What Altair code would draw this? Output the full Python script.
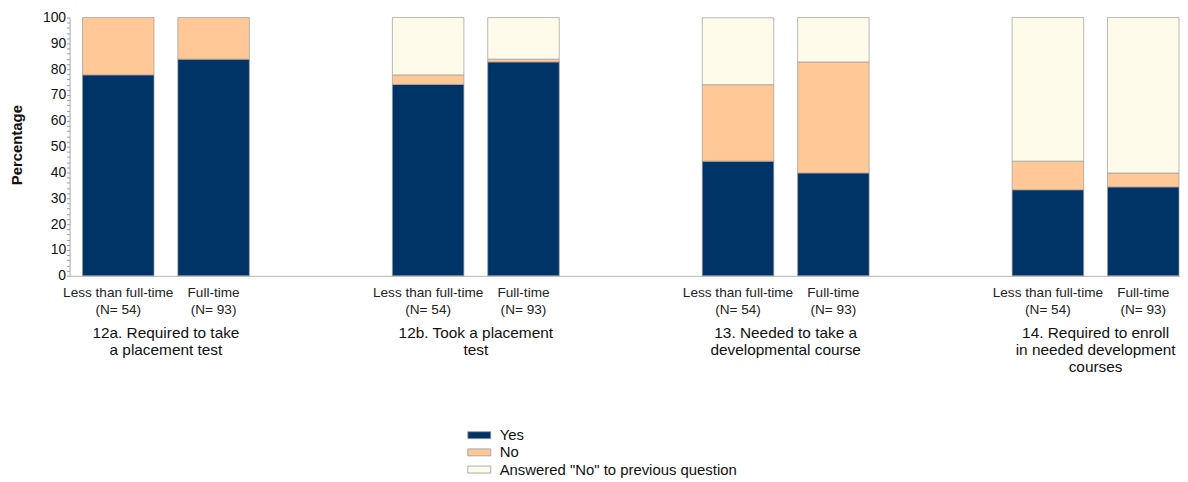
import altair as alt
import pandas as pd

FONT = "Liberation Sans, Arial, Helvetica, sans-serif"

groups = ["12a", "12b", "13", "14"]
group_titles = [
    "12a. Required to take\na placement test",
    "12b. Took a placement\ntest",
    "13. Needed to take a\ndevelopmental course",
    "14. Required to enroll\nin needed development\ncourses",
]
statuses = ["Less than full-time", "Full-time"]
status_labels = ["Less than full-time\n(N= 54)", "Full-time\n(N= 93)"]
series = ["Yes", "No", "Answered \"No\" to previous question"]
colors = ["#003366", "#ffc896", "#fffbeb"]

# Percentages per question (12a, 12b, 13, 14)
yes_less = [77.8, 74.1, 44.4, 33.3]
no_less = [22.2, 3.7, 29.6, 11.1]
prev_less = [0.0, 22.2, 25.9, 55.6]
yes_full = [83.9, 82.8, 39.8, 34.4]
no_full = [16.1, 1.1, 43.0, 5.4]
prev_full = [0.0, 16.1, 17.2, 60.2]

values = {
    "Less than full-time": [yes_less, no_less, prev_less],
    "Full-time": [yes_full, no_full, prev_full],
}

rows = []
for gi, g in enumerate(groups):
    for s in statuses:
        for k, name in enumerate(series):
            v = values[s][k][gi]
            if v > 0:
                rows.append({"group": g, "status": s, "series": name, "ord": k, "pct": v})
df = pd.DataFrame(rows)

lab_df = pd.DataFrame(
    [{"group": g, "status": s, "label": status_labels[si]}
     for g in groups for si, s in enumerate(statuses)]
)
title_df = pd.DataFrame({"group": groups, "title": group_titles})

xscale = alt.Scale(domain=groups, range=[0, 1248], paddingInner=0, paddingOuter=0)
xoff_scale = alt.Scale(domain=statuses, paddingInner=0.25, paddingOuter=0.75, align=13 / 144)
xaxis = alt.Axis(labels=False, ticks=False, title=None, domainColor="#b5b5b5", grid=False)

bars = alt.Chart(df).mark_bar(stroke="#9a9a9a", strokeWidth=0.7).encode(
    x=alt.X("group:N", scale=xscale, axis=xaxis),
    xOffset=alt.XOffset("status:N", scale=xoff_scale),
    y=alt.Y(
        "pct:Q",
        stack="zero",
        scale=alt.Scale(domain=[0, 100], nice=False),
        axis=alt.Axis(
            values=list(range(0, 101, 2)),
            labelExpr="datum.value % 10 === 0 ? datum.label : ''",
            labelOverlap=False,
            tickSize=3,
            labelPadding=1,
            labelFontSize=14,
            labelFont=FONT,
            labelColor="#111111",
            domainColor="#aaaaaa",
            tickColor="#999999",
            grid=False,
            title="Percentage",
            titleFont=FONT,
            titleFontSize=15,
            titleFontWeight="bold",
            titleColor="#111111",
            titleX=-53,
            titleY=128,
            titleAngle=270,
            titleBaseline="middle",
            titleAlign="center",
        ),
    ),
    color=alt.Color(
        "series:N",
        scale=alt.Scale(domain=series, range=colors),
        legend=alt.Legend(
            title=None,
            orient="none",
            legendX=405,
            legendY=413,
            symbolType="M-3.3,-1H3.3V1H-3.3Z",
            symbolSize=49,
            symbolStrokeColor="#999999",
            symbolStrokeWidth=0.8,
            labelFont=FONT,
            labelFontSize=15,
            labelColor="#111111",
            labelOffset=13,
            labelLimit=0,
            rowPadding=1.3,
        ),
    ),
    order=alt.Order("ord:Q"),
)

labels = alt.Chart(lab_df).mark_text(
    lineBreak="\n", baseline="alphabetic", align="center", fontSize=13.7,
    font=FONT, color="#222222", lineHeight=17,
).encode(
    x=alt.X("group:N", scale=xscale, axis=xaxis),
    xOffset=alt.XOffset("status:N", scale=xoff_scale),
    y=alt.value(281),
    text="label:N",
)

titles = alt.Chart(title_df).mark_text(
    lineBreak="\n", baseline="alphabetic", align="center", fontSize=15.5,
    font=FONT, color="#111111", lineHeight=17,
).encode(
    x=alt.X("group:N", scale=xscale, axis=xaxis, bandPosition=97 / 312),
    y=alt.value(323),
    text="title:N",
)

chart = alt.layer(bars, labels, titles).properties(
    width=1118,
    height=260,
    autosize=alt.AutoSizeParams(type="none"),
    padding={"left": 62, "top": 8, "right": 0, "bottom": 205},
).configure_view(stroke=None).configure_axis(grid=False)

chart.save("out.html", embed_options={"renderer": "svg", "actions": False})
